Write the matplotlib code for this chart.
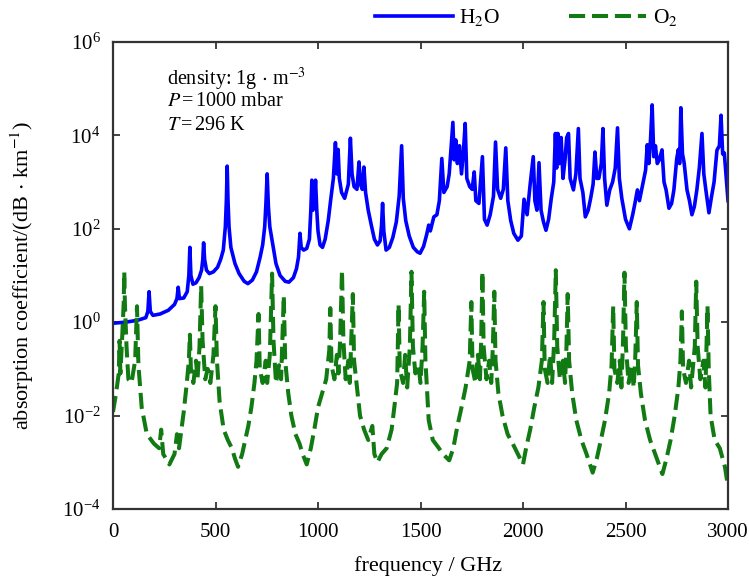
import matplotlib
matplotlib.use("Agg")
import matplotlib.pyplot as plt
from matplotlib.ticker import NullLocator

# H2O absorption spectrum (frequency in GHz, absorption in dB/km)
h2o_freq = [0, 60, 120, 160, 170, 176, 182, 195, 230, 270, 300, 312, 318, 324, 345, 362,
            370, 375, 380, 390, 405, 420, 432, 438, 442, 447, 456, 470, 490, 510, 525, 538,
            548, 553, 557, 561, 566, 575, 595, 615, 640, 658, 680, 700, 718, 730, 740, 746,
            752, 758, 765, 778, 795, 815, 840, 858, 880, 895, 905, 912, 918, 930, 945, 958,
            965, 970, 975, 982, 988, 994, 1000, 1010, 1022, 1035, 1050, 1062, 1075, 1085, 1092, 1098,
            1104, 1115, 1130, 1148, 1158, 1166, 1176, 1190, 1200, 1207, 1216, 1224, 1232, 1245, 1260, 1275,
            1290, 1303, 1310, 1315, 1321, 1332, 1348, 1365, 1382, 1396, 1408, 1416, 1428, 1445, 1465, 1485,
            1498, 1515, 1530, 1540, 1548, 1565, 1580, 1592, 1604, 1614, 1630, 1640, 1650, 1658, 1664, 1672,
            1680, 1690, 1700, 1710, 1718, 1726, 1740, 1752, 1762, 1770, 1785, 1802, 1812, 1825, 1840, 1856,
            1866, 1876, 1891, 1904, 1916, 1926, 1940, 1955, 1975, 1992, 2005, 2020, 2035, 2050, 2058, 2068,
            2078, 2088, 2100, 2112, 2125, 2138, 2150, 2158, 2164, 2170, 2178, 2186, 2195, 2205, 2213, 2222,
            2230, 2246, 2258, 2270, 2278, 2292, 2304, 2318, 2330, 2342, 2351, 2360, 2370, 2382, 2390, 2398,
            2409, 2423, 2437, 2450, 2461, 2470, 2482, 2500, 2519, 2535, 2546, 2558, 2568, 2582, 2598, 2606,
            2614, 2622, 2630, 2638, 2646, 2655, 2665, 2678, 2688, 2698, 2712, 2725, 2736, 2750, 2758, 2764,
            2770, 2778, 2786, 2800, 2812, 2824, 2836, 2848, 2860, 2873, 2882, 2892, 2907, 2920, 2932, 2946,
            2958, 2966, 2974, 2982, 2990, 3000]
h2o_abs = [0.95, 1.0, 1.1, 1.25, 1.7, 4.5, 1.7, 1.4, 1.5, 1.8, 2.4, 3.2, 5.6, 3.2, 3.3, 4.5,
           10, 40, 10, 6.5, 7, 9, 13, 22, 50, 22, 13, 11, 12, 15, 22, 35,
           110, 400, 2200, 400, 110, 40, 18, 11, 7.5, 6.7, 8, 12, 25, 45, 110, 350,
           1500, 300, 110, 50, 18, 10, 7.5, 7.2, 9, 14, 25, 80, 40, 35, 38, 60,
           250, 1100, 250, 350, 1100, 250, 90, 45, 40, 60, 150, 420, 1200, 7000, 1500, 5000,
           1200, 600, 450, 900, 8700, 1500, 800, 700, 2700, 900, 700, 2100, 600, 250, 120, 60,
           45, 55, 120, 350, 90, 35, 40, 65, 140, 500, 6000, 450, 150, 70, 40, 32,
           30, 42, 75, 120, 90, 180, 200, 400, 3200, 600, 800, 1500, 6000, 19000, 3000, 8000,
           2500, 6000, 1500, 5000, 18000, 1200, 800, 700, 1650, 400, 350, 3500, 160, 120, 200, 500,
           7200, 700, 450, 700, 5400, 400, 150, 80, 57, 70, 430, 200, 900, 3500, 400, 250,
           2600, 250, 140, 93, 160, 450, 1000, 11000, 2000, 11000, 2500, 9000, 1200, 3000, 9000, 11000,
           1200, 680, 1500, 14000, 1200, 600, 180, 250, 450, 900, 4400, 1200, 1200, 2500, 14000, 1200,
           320, 680, 1000, 2000, 14500, 1200, 450, 160, 100, 200, 350, 680, 400, 800, 1800, 6300,
           2500, 8000, 45000, 3500, 6000, 2500, 3000, 4900, 1000, 680, 275, 350, 680, 3200, 5000, 2500,
           39000, 4000, 2600, 680, 400, 200, 300, 680, 2000, 11000, 1500, 680, 220, 500, 1000, 4800,
           6000, 27000, 4000, 4200, 1500, 400]

# O2 absorption spectrum (frequency in GHz, absorption in dB/km)
o2_freq = [0, 15, 28, 32, 36, 45, 52, 55, 58, 66, 75, 90, 108, 117, 124, 140,
           165, 200, 225, 235, 245, 275, 300, 312, 322, 345, 360, 370, 375, 380, 392, 405,
           412, 422, 430, 437, 450, 462, 475, 490, 500, 507, 520, 540, 560, 580, 595, 610,
           630, 645, 660, 675, 690, 700, 710, 716, 730, 745, 752, 765, 776, 783, 795, 810,
           820, 833, 840, 855, 870, 890, 910, 925, 945, 965, 985, 1000, 1020, 1040, 1055, 1060,
           1066, 1080, 1092, 1100, 1108, 1117, 1124, 1135, 1148, 1155, 1170, 1176, 1190, 1205, 1225, 1245,
           1265, 1275, 1290, 1310, 1335, 1359, 1373, 1386, 1393, 1399, 1415, 1425, 1435, 1448, 1456, 1463,
           1475, 1490, 1500, 1510, 1518, 1524, 1540, 1560, 1590, 1610, 1640, 1660, 1680, 1700, 1720, 1740,
           1748, 1754, 1768, 1780, 1790, 1796, 1802, 1808, 1822, 1835, 1845, 1853, 1860, 1866, 1880, 1900,
           1925, 1950, 1975, 2000, 2015, 2035, 2055, 2075, 2092, 2100, 2106, 2120, 2132, 2142, 2152, 2160,
           2167, 2180, 2195, 2205, 2212, 2218, 2225, 2240, 2260, 2285, 2310, 2340, 2360, 2380, 2400, 2420,
           2432, 2440, 2446, 2460, 2472, 2480, 2488, 2495, 2502, 2515, 2530, 2540, 2548, 2555, 2561, 2575,
           2595, 2620, 2645, 2680, 2700, 2720, 2740, 2758, 2768, 2775, 2781, 2795, 2810, 2820, 2838, 2845,
           2852, 2865, 2880, 2890, 2895, 2900, 2906, 2915, 2935, 2960, 2985, 3000]
o2_abs = [0.012, 0.03, 0.08, 0.4, 0.08, 0.5, 2.5, 12, 2.5, 0.3, 0.06, 0.05, 0.15, 2.2, 0.12, 0.015,
          0.004, 0.0025, 0.002, 0.005, 0.0015, 0.0009, 0.0015, 0.004, 0.002, 0.012, 0.05, 0.15, 0.54, 0.1, 0.05, 0.15,
          0.06, 0.3, 6, 0.4, 0.06, 0.1, 0.05, 0.2, 2.2, 0.15, 0.02, 0.005, 0.003, 0.002, 0.0012, 0.0008,
          0.0015, 0.003, 0.006, 0.015, 0.05, 0.15, 1.5, 0.1, 0.05, 0.15, 0.05, 0.2, 11, 0.4, 0.05, 0.12,
          0.06, 3.7, 0.15, 0.03, 0.01, 0.004, 0.0025, 0.0015, 0.0009, 0.002, 0.006, 0.015, 0.03, 0.06, 0.25, 2,
          0.12, 0.06, 0.2, 0.08, 0.4, 13, 0.4, 0.06, 0.15, 0.05, 4, 0.15, 0.04, 0.01, 0.005, 0.003,
          0.006, 0.0015, 0.001, 0.0015, 0.002, 0.005, 0.016, 0.05, 2.4, 0.1, 0.05, 0.2, 0.04, 0.3, 12, 0.3,
          0.08, 0.12, 0.05, 0.3, 4.5, 0.15, 0.008, 0.003, 0.002, 0.0015, 0.0011, 0.002, 0.006, 0.015, 0.04, 0.15,
          2.7, 0.1, 0.05, 0.2, 0.06, 0.4, 12, 0.3, 0.06, 0.15, 0.05, 0.3, 4.5, 0.15, 0.03, 0.01,
          0.004, 0.0025, 0.0015, 0.0009, 0.002, 0.005, 0.015, 0.04, 0.15, 2.7, 0.1, 0.05, 0.2, 0.05, 0.4, 13,
          0.3, 0.06, 0.15, 0.05, 0.3, 4, 0.15, 0.03, 0.008, 0.003, 0.0015, 0.0006, 0.0012, 0.003, 0.008, 0.03,
          0.12, 2.2, 0.1, 0.05, 0.15, 0.04, 0.4, 11.5, 0.3, 0.05, 0.12, 0.04, 0.2, 2.7, 0.12, 0.03,
          0.008, 0.003, 0.0015, 0.00056, 0.0012, 0.003, 0.01, 0.04, 0.15, 1.7, 0.1, 0.05, 0.15, 0.04, 0.3, 7.4,
          0.3, 0.06, 0.15, 0.04, 0.3, 2.2, 0.1, 0.01, 0.003, 0.002, 0.0008, 0.0003]

x_ticks = [0, 500, 1000, 1500, 2000, 2500, 3000]
y_ticks = [1e-4, 1e-2, 1e0, 1e2, 1e4, 1e6]

plt.rcParams["font.family"] = ["Liberation Serif", "DejaVu Serif"]
plt.rcParams["mathtext.fontset"] = "stix"

W, H = 749, 580
fig = plt.figure(figsize=(W / 100, H / 100), dpi=100)
ax = fig.add_axes([113 / W, 1 - 509 / H, 615 / W, 467 / H])

ax.plot(h2o_freq, h2o_abs, color="#0000ff", lw=2.6, label="H$_2$O")
ax.plot(o2_freq, o2_abs, color="#127a12", lw=2.9, ls=(0, (4, 1.7)), label="O$_2$")

ax.set_yscale("log")
ax.set_xlim(0, 3000)
ax.set_ylim(1e-4, 1e6)
ax.set_xticks(x_ticks)
ax.set_yticks(y_ticks)
ax.yaxis.set_minor_locator(NullLocator())
ax.tick_params(axis="both", which="major", direction="in", top=True, right=True,
               length=5, width=1.3, color="#333333", labelsize=15)
ax.tick_params(axis="x", pad=10)
ax.tick_params(axis="y", pad=9)
for sp in ax.spines.values():
    sp.set_linewidth(1.6)
    sp.set_color("#333333")

ax.set_xlabel("frequency / GHz", fontsize=16)
ax.set_ylabel("absorption coefficient/(dB$\\,\\cdot\\,$km$^{-1}$)", fontsize=16)
ax.xaxis.set_label_coords(0.512, -0.10)
ax.yaxis.set_label_coords(-0.125, 0.5)

# condition annotations
fs_note = 14.5
fig.text(167 / W, 1 - 85 / H, "density: 1g$\\,\\cdot\\,$m$^{-3}$", fontsize=fs_note, va="baseline")
fig.text(167 / W, 1 - 106 / H, "$P\\,$=$\\,$1000 mbar", fontsize=fs_note, va="baseline")
fig.text(167 / W, 1 - 130 / H, "$T\\,$=$\\,$296 K", fontsize=fs_note, va="baseline")

fig.legend(loc="center left", bbox_to_anchor=(375 / W, 1 - 18 / H), ncol=2, frameon=False,
           fontsize=15.5, handlelength=3.6, handletextpad=0.3, columnspacing=3.2,
           borderpad=0, borderaxespad=0)

fig.savefig("out.png", dpi=100)
